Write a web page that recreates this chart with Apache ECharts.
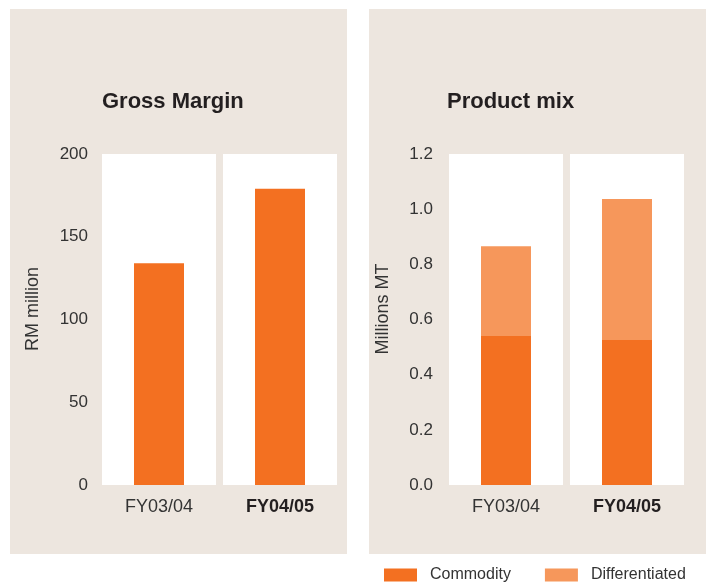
<!DOCTYPE html>
<html>
<head>
<meta charset="utf-8">
<script src="https://cdn.jsdelivr.net/npm/echarts@6/dist/echarts.min.js"></script>
<style>
html,body{margin:0;padding:0;background:#fff;}
#chart{width:710px;height:583px;}
</style>
</head>
<body>
<div id="chart"></div>
<script>
// ---- data ----
var categories = ['FY03/04', 'FY04/05'];
var grossMargin = [134, 179];           // RM million
var commodity = [0.54, 0.526];           // Millions MT
var differentiated = [0.326, 0.511];     // Millions MT
var gmTicks = { min: 0, max: 200, interval: 50 };
var pmTicks = { min: 0, max: 1.2, interval: 0.2 };

var DARK = '#f37021', LIGHT = '#f6975b', BEIGE = '#ede6df', TXT = '#231f20';
var FONT = '"Liberation Sans", Arial, sans-serif';

var chart = echarts.init(document.getElementById('chart'), null, {renderer: 'canvas'});

function catLabel() {
  return {
    interval: 0, hideOverlap: false,
    fontFamily: FONT, fontSize: 18, color: TXT, margin: 13,
    formatter: function (v, i) { return i === 1 ? '{b|' + v + '}' : '{n|' + v + '}'; },
    rich: {
      n: {fontFamily: FONT, fontSize: 18, color: '#333'},
      b: {fontFamily: FONT, fontSize: 18, color: TXT, fontWeight: 'bold'}
    }
  };
}
function hiddenCat(grid) {
  return {type: 'category', gridIndex: grid, data: categories, show: false};
}
function valAxis(grid, t, name, dec, gap, lblMargin) {
  return {
    type: 'value', gridIndex: grid, min: t.min, max: t.max, interval: t.interval,
    name: name, nameLocation: 'middle', nameRotate: 90, nameGap: gap,
    nameTextStyle: {fontFamily: FONT, fontSize: 18, color: '#333', padding: [0, 0, 0, 21]},
    axisLine: {show: false}, axisTick: {show: false}, splitLine: {show: false},
    axisLabel: {
      fontFamily: FONT, fontSize: 17, color: '#333', margin: lblMargin,
      formatter: function (v) { return dec ? v.toFixed(1) : String(v); }
    }
  };
}

var option = {
  backgroundColor: '#fff',
  animation: false,
  graphic: [
    {type: 'rect', z: -10, shape: {x: 10, y: 9, width: 337, height: 545}, style: {fill: BEIGE}},
    {type: 'rect', z: -10, shape: {x: 369, y: 9, width: 337, height: 545}, style: {fill: BEIGE}}
  ],
  title: [
    {text: 'Gross Margin', left: 102, top: 91, padding: 0,
     textStyle: {fontFamily: FONT, fontSize: 22, fontWeight: 'bold', color: TXT}},
    {text: 'Product mix', left: 447, top: 91, padding: 0,
     textStyle: {fontFamily: FONT, fontSize: 22, fontWeight: 'bold', color: TXT}}
  ],
  legend: {
    data: ['Commodity', 'Differentiated'],
    left: 384, top: 567, padding: 0,
    itemWidth: 33, itemHeight: 13, itemGap: 34,
    icon: 'rect',
    textStyle: {fontFamily: FONT, fontSize: 16, color: '#333', padding: [0, 0, 0, 8]}
  },
  grid: [
    {left: 98.5, width: 242, top: 154, height: 331},
    {left: 445.5, width: 242, top: 154, height: 331}
  ],
  xAxis: [
    {type: 'category', gridIndex: 0, data: categories, axisLine: {show: false}, axisTick: {show: false}, axisLabel: catLabel()},
    {type: 'category', gridIndex: 1, data: categories, axisLine: {show: false}, axisTick: {show: false}, axisLabel: catLabel()},
    hiddenCat(0),
    hiddenCat(1)
  ],
  yAxis: [
    valAxis(0, gmTicks, 'RM million', false, 56.5, 10.5),
    valAxis(1, pmTicks, 'Millions MT', true, 53.5, 12.5)
  ],
  series: [
    {name: 'bgL', type: 'bar', xAxisIndex: 2, yAxisIndex: 0, barWidth: 114, silent: true, z: 1,
     itemStyle: {color: '#fff'}, data: categories.map(function () { return gmTicks.max; })},
    {name: 'bgR', type: 'bar', xAxisIndex: 3, yAxisIndex: 1, barWidth: 114, silent: true, z: 1,
     itemStyle: {color: '#fff'}, data: categories.map(function () { return pmTicks.max; })},
    {name: 'Gross Margin', type: 'bar', xAxisIndex: 0, yAxisIndex: 0, barWidth: 50, z: 3,
     itemStyle: {color: DARK}, data: grossMargin},
    {name: 'Commodity', type: 'bar', stack: 'pm', xAxisIndex: 1, yAxisIndex: 1, barWidth: 50, z: 3,
     itemStyle: {color: DARK}, data: commodity},
    {name: 'Differentiated', type: 'bar', stack: 'pm', xAxisIndex: 1, yAxisIndex: 1, barWidth: 50, z: 3,
     itemStyle: {color: LIGHT}, data: differentiated}
  ]
};
chart.setOption(option);
</script>
</body>
</html>
